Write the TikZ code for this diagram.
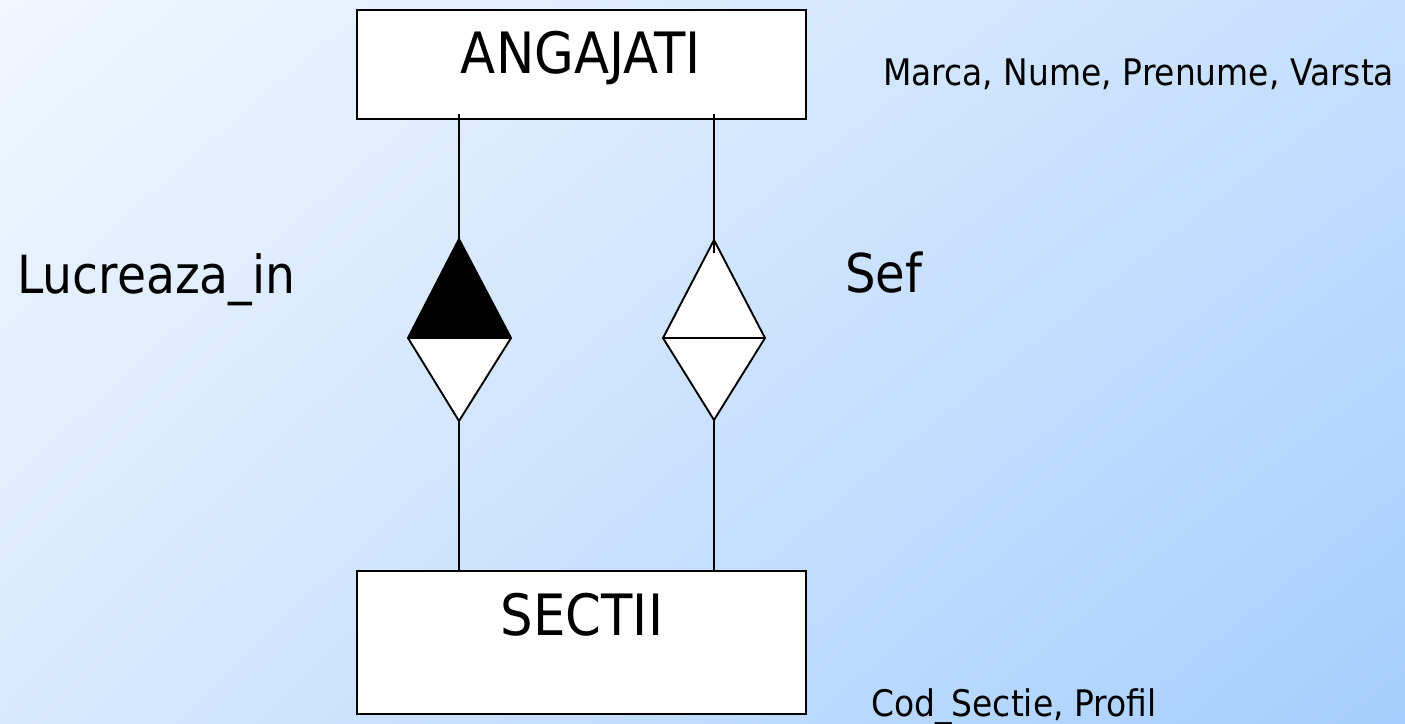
\documentclass[tikz,border=0pt]{standalone}
\usepackage{fontspec}
\setmainfont{DejaVu Sans}[FakeStretch=0.9]
\usetikzlibrary{shadings}
\definecolor{bgUL}{HTML}{F1F7FE}
\definecolor{bgUR}{HTML}{C6DFFE}
\definecolor{bgLL}{HTML}{D8E9FE}
\definecolor{bgLR}{HTML}{A5CEFE}
\newcommand{\fsz}[1]{\fontsize{#1}{1.2\dimexpr#1pt\relax}\selectfont}
\tikzset{
  entity/.style={draw=black, fill=white, line width=1.9pt, inner sep=0pt},
  lbl/.style={inner sep=0pt, text=black},
  rel/.style={draw=black, line width=1.9pt, line join=miter},
  link/.style={draw=black, line width=1.9pt},
}
\begin{document}
\begin{tikzpicture}[x=1pt,y=-1pt]
  % background
  \shade[upper left=bgUL, upper right=bgUR, lower left=bgLL, lower right=bgLR]
    (0,0) rectangle (1405,723);
  \useasboundingbox (0,0) rectangle (1405,723);

  % entities
  \node[entity, minimum width=449pt, minimum height=109pt] (ang) at (581.5,64.5) {};
  \node[entity, minimum width=449pt, minimum height=143pt] (sec) at (581.5,642.5) {};
  \node[lbl, anchor=base, font=\fsz{57}] (angT) at (581,73) {ANGAJATI};
  \node[lbl, anchor=base, font=\fsz{57}] (secT) at (582,635) {SECTII};

  % relationship diamonds: Lucreaza_in (half filled) and Sef
  \coordinate (ln) at (459,239);
  \coordinate (lw) at (408,338);
  \coordinate (le) at (511,338);
  \coordinate (ls) at (459,421);
  \coordinate (rn) at (714,240);
  \coordinate (rw) at (663,338);
  \coordinate (re) at (765,338);
  \coordinate (rs) at (714,420);
  \coordinate (rin) at (714,253);

  \fill[black] (lw) -- (ln) -- (le) -- cycle;
  \fill[white] (lw) -- (ls) -- (le) -- cycle;
  \draw[rel] (ln) -- (le) -- (ls) -- (lw) -- cycle;
  \draw[rel] (lw) -- (le);

  \fill[white] (rn) -- (re) -- (rs) -- (rw) -- cycle;
  \draw[rel] (rn) -- (re) -- (rs) -- (rw) -- cycle;
  \draw[rel] (rw) -- (re);

  % connectors
  \draw[link] ([yshift=6pt]ang.south -| ln) -- (ln);
  \draw[link] (ls) -- (sec.north -| ls);
  \draw[link] ([yshift=6pt]ang.south -| rn) -- (rin);
  \draw[link] (rs) -- (sec.north -| rs);

  % labels
  \node[lbl, anchor=base west, font=\fsz{52.5}] (lucr) at (17,293) {Lucreaza\_in};
  \node[lbl, anchor=base west, font=\fsz{53.5}] (sef) at (845,292) {Sef};
  \node[lbl, anchor=base west, font=\fsz{36.6}] (attrA) at (883,85) {Marca, Nume, Prenume, Varsta};
  \node[lbl, anchor=base west, font=\fsz{36.6}] (attrS) at (871,716) {Cod\_Sectie, Profil};
\end{tikzpicture}
\end{document}
